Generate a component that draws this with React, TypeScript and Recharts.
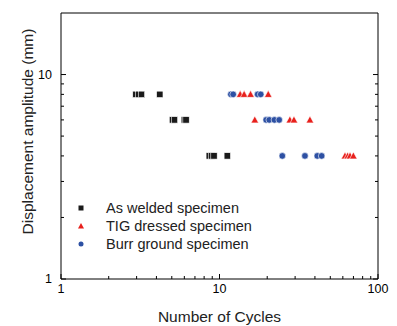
import { ScatterChart, Scatter, XAxis, YAxis, Legend } from "recharts";

// cycles to failure per displacement amplitude
const weldedCycles = [2.97, 3.1, 3.22, 4.2, 5.05, 5.2, 6.0, 6.15, 8.62, 8.9, 9.23, 11.2];
const weldedAmp = [8, 8, 8, 8, 6, 6, 6, 6, 4, 4, 4, 4];

const tigCycles = [13.5, 14.3, 15.7, 20.3, 16.7, 27.8, 29.5, 37.2, 61.9, 64.4, 66.6, 69.9];
const tigAmp = [8, 8, 8, 8, 6, 6, 6, 6, 4, 4, 4, 4];

const burrCycles = [11.8, 12.2, 17.4, 18.2, 19.7, 20.6, 22.2, 23.8, 24.9, 34.6, 41.4, 44.1];
const burrAmp = [8, 8, 8, 8, 6, 6, 6, 6, 4, 4, 4, 4];

const xTickValues = [1, 2, 3, 4, 5, 6, 7, 8, 9, 10, 20, 30, 40, 50, 60, 70, 80, 90, 100];
const yTickValues = [1, 2, 3, 4, 5, 6, 7, 8, 9, 10];
const majorTicks = [1, 10, 100];

const FONT = "'Liberation Sans', Arial, Helvetica, sans-serif";
const BLACK = "#1a1a1a";
const RED = "#e8201c";
const BLUE = "#2d50a3";

const toPoints = (xs: number[], ys: number[]) =>
  xs.map((cycles, i) => ({ cycles, amp: ys[i] }));

const welded = toPoints(weldedCycles, weldedAmp);
const tig = toPoints(tigCycles, tigAmp);
const burr = toPoints(burrCycles, burrAmp);

function Square({ cx, cy }: any) {
  return (
    <rect x={cx - 3.2} y={cy - 3.2} width={6.4} height={6.4} fill={BLACK} stroke="#fff" strokeWidth={0.6} />
  );
}

function Triangle({ cx, cy }: any) {
  return (
    <polygon
      points={`${cx},${cy - 4} ${cx + 3.8},${cy + 3} ${cx - 3.8},${cy + 3}`}
      fill={RED}
      stroke="#fff"
      strokeWidth={0.6}
    />
  );
}

function Dot({ cx, cy }: any) {
  return <circle cx={cx} cy={cy} r={3.3} fill={BLUE} stroke="#fff" strokeWidth={0.6} />;
}

const isMajor = (v: number) => majorTicks.includes(v);

function BottomTick({ x, y, payload }: any) {
  const major = isMajor(payload.value);
  return (
    <g>
      <line x1={x} x2={x} y1={y} y2={y - (major ? 5 : 3)} stroke="#000" />
      {major && (
        <text x={x} y={y + 14} textAnchor="middle" fontSize={12.5} fontFamily={FONT} fill="#000">
          {payload.value}
        </text>
      )}
    </g>
  );
}

function TopTick({ x, y, payload }: any) {
  const major = isMajor(payload.value);
  return <line x1={x} x2={x} y1={y} y2={y + (major ? 5 : 3)} stroke="#000" />;
}

function LeftTick({ x, y, payload }: any) {
  const major = isMajor(payload.value);
  return (
    <g>
      <line x1={x} x2={x + (major ? 5 : 3)} y1={y} y2={y} stroke="#000" />
      {major && (
        <text x={x - 9} y={y + 4} textAnchor="end" fontSize={12.5} fontFamily={FONT} fill="#000">
          {payload.value}
        </text>
      )}
    </g>
  );
}

function RightTick({ x, y, payload }: any) {
  const major = isMajor(payload.value);
  return <line x1={x} x2={x - (major ? 5 : 3)} y1={y} y2={y} stroke="#000" />;
}

function YTitle({ viewBox }: any) {
  const cx = viewBox.x + 27;
  const cy = viewBox.y + viewBox.height / 2 - 14.5;
  return (
    <text
      x={cx}
      y={cy}
      transform={`rotate(-90 ${cx} ${cy})`}
      textAnchor="middle"
      dominantBaseline="central"
      fontSize={15.5}
      fontFamily={FONT}
      fill="#222"
    >
      Displacement amplitude (mm)
    </text>
  );
}

function XTitle({ viewBox }: any) {
  const cx = viewBox.x + viewBox.width / 2;
  return (
    <text x={cx} y={viewBox.y + 43} textAnchor="middle" fontSize={15.5} fontFamily={FONT} fill="#222">
      Number of Cycles
    </text>
  );
}

const legendRows = [
  { name: "As welded specimen", icon: <rect x={3.5} y={6.5} width={5} height={5} fill={BLACK} /> },
  { name: "TIG dressed specimen", icon: <polygon points="6,6 9,11.5 3,11.5" fill={RED} /> },
  { name: "Burr ground specimen", icon: <circle cx={6} cy={9} r={2.5} fill={BLUE} /> },
];

function LegendBox() {
  return (
    <div style={{ fontFamily: FONT, fontSize: 14.5, color: "#222" }}>
      {legendRows.map((row) => (
        <div key={row.name} style={{ display: "flex", alignItems: "center", height: 18 }}>
          <svg width={12} height={18} style={{ marginRight: 19 }}>
            {row.icon}
          </svg>
          <span>{row.name}</span>
        </div>
      ))}
    </div>
  );
}

export default function App() {
  return (
    <div style={{ position: "absolute", left: 0, top: 0, background: "#fff" }}>
      <ScatterChart width={397} height={326} margin={{ top: 12, right: 18, bottom: 0, left: 0 }}>
        <XAxis
          xAxisId="b"
          type="number"
          dataKey="cycles"
          scale="log"
          domain={[1, 100]}
          allowDataOverflow
          ticks={xTickValues}
          interval={0}
          tickSize={0}
          tickMargin={0}
          tick={(p: any) => <BottomTick {...p} />}
          axisLine={{ stroke: "#000" }}
          height={47}
          label={{ content: (p: any) => <XTitle {...p} /> }}
        />
        <XAxis
          xAxisId="t"
          orientation="top"
          type="number"
          scale="log"
          domain={[1, 100]}
          allowDataOverflow
          ticks={xTickValues}
          interval={0}
          tickSize={0}
          tickMargin={0}
          tick={(p: any) => <TopTick {...p} />}
          axisLine={{ stroke: "#000" }}
          height={1}
        />
        <YAxis
          yAxisId="l"
          type="number"
          dataKey="amp"
          scale="log"
          domain={[1, 20]}
          allowDataOverflow
          ticks={yTickValues}
          interval={0}
          tickSize={0}
          tickMargin={0}
          tick={(p: any) => <LeftTick {...p} />}
          axisLine={{ stroke: "#000" }}
          width={61}
          label={{ content: (p: any) => <YTitle {...p} /> }}
        />
        <YAxis
          yAxisId="r"
          orientation="right"
          type="number"
          scale="log"
          domain={[1, 20]}
          allowDataOverflow
          ticks={yTickValues}
          interval={0}
          tickSize={0}
          tickMargin={0}
          tick={(p: any) => <RightTick {...p} />}
          axisLine={{ stroke: "#000" }}
          width={1}
        />
        <Legend
          layout="vertical"
          align="center"
          verticalAlign="middle"
          wrapperStyle={{ left: 75, top: 199, width: "auto" }}
          content={() => <LegendBox />}
        />
        <Scatter name="As welded specimen" data={welded} xAxisId="b" yAxisId="l" shape={<Square />} isAnimationActive={false} />
        <Scatter name="TIG dressed specimen" data={tig} xAxisId="b" yAxisId="l" shape={<Triangle />} isAnimationActive={false} />
        <Scatter name="Burr ground specimen" data={burr} xAxisId="b" yAxisId="l" shape={<Dot />} isAnimationActive={false} />
      </ScatterChart>
    </div>
  );
}
